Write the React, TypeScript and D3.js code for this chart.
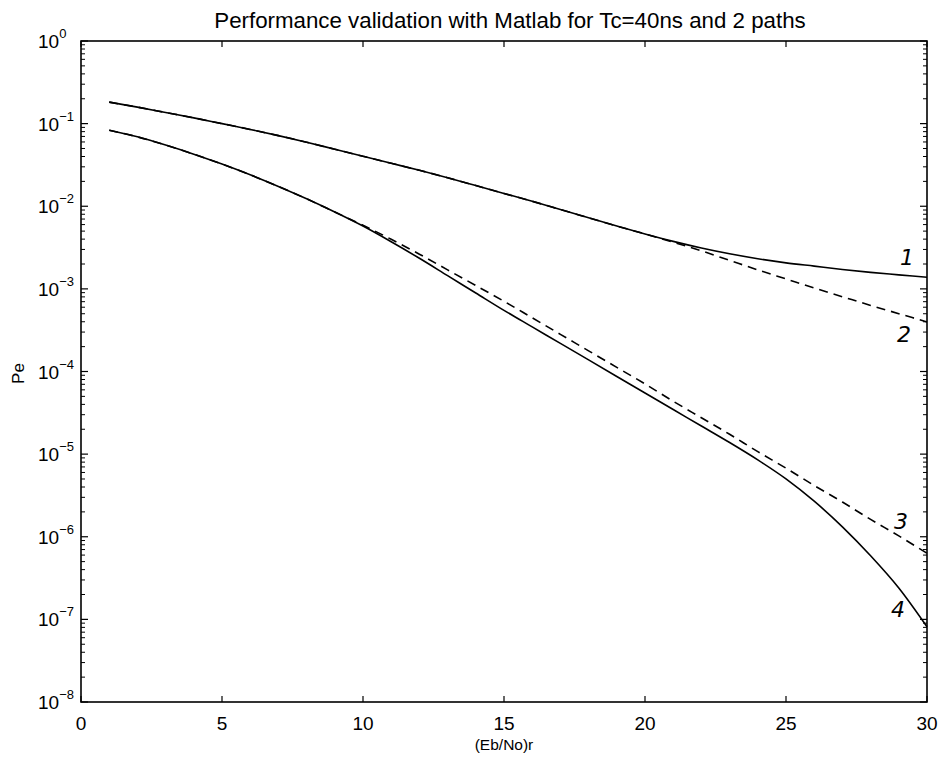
import React from "react";
import * as d3 from "d3";

const xValues = [1,2,3,4,5,6,7,8,9,10,11,12,13,14,15,16,17,18,19,20,21,22,23,24,25,26,27,28,29,30];
// log10(Pe) values
const curve1 = [-0.74,-0.80,-0.865,-0.93,-1.00,-1.07,-1.145,-1.225,-1.31,-1.395,-1.48,-1.565,-1.655,-1.75,-1.845,-1.94,-2.04,-2.14,-2.24,-2.335,-2.425,-2.505,-2.575,-2.635,-2.685,-2.725,-2.765,-2.80,-2.83,-2.86];
const curve2 = [-0.74,-0.80,-0.865,-0.93,-1.00,-1.07,-1.145,-1.225,-1.31,-1.395,-1.48,-1.565,-1.655,-1.75,-1.845,-1.94,-2.04,-2.14,-2.24,-2.335,-2.435,-2.54,-2.655,-2.77,-2.88,-2.99,-3.095,-3.20,-3.30,-3.40];
const curve3 = [-1.08,-1.16,-1.26,-1.37,-1.49,-1.62,-1.76,-1.91,-2.07,-2.23,-2.40,-2.58,-2.77,-2.96,-3.15,-3.35,-3.55,-3.75,-3.95,-4.15,-4.36,-4.56,-4.76,-4.97,-5.17,-5.38,-5.58,-5.79,-5.99,-6.20];
const curve4 = [-1.08,-1.16,-1.26,-1.37,-1.49,-1.62,-1.76,-1.91,-2.07,-2.24,-2.43,-2.63,-2.84,-3.05,-3.26,-3.46,-3.66,-3.86,-4.06,-4.26,-4.46,-4.66,-4.86,-5.07,-5.30,-5.57,-5.88,-6.23,-6.62,-7.09];

const xTicks = [0,5,10,15,20,25,30];
const yExponents = [0,-1,-2,-3,-4,-5,-6,-7,-8];
const curveLabels = ["1","2","3","4"];

const title = "Performance validation with Matlab for Tc=40ns and 2 paths";
const xTitle = "(Eb/No)r";
const yTitle = "Pe";

const W = 942, H = 762;
const L = 81, R = 927, T = 41, B = 702;

export default function App() {
  const x = d3.scaleLinear().domain([0, 30]).range([L, R]);
  const y = d3.scaleLog().domain([1e-8, 1]).range([B, T]);
  const font = "'Liberation Sans', Arial, Helvetica, sans-serif";

  const mk = (arr: number[]) =>
    d3.line<number>().curve(d3.curveMonotoneX).x((_, i) => x(xValues[i])).y((v) => y(Math.pow(10, v)))(arr) || "";

  const series = [
    { d: curve1, dash: undefined },
    { d: curve2, dash: "9,6" },
    { d: curve3, dash: "9,6" },
    { d: curve4, dash: undefined },
  ];

  const minor: number[] = [];
  for (let e = -8; e < 0; e++) {
    for (let k = 2; k <= 9; k++) minor.push(k * Math.pow(10, e));
  }

  const labelPos = [
    { v: curve1[curve1.length - 1], dx: -27, dy: -12 },
    { v: curve2[curve2.length - 1], dx: -30, dy: 20 },
    { v: curve3[curve3.length - 1], dx: -33, dy: -24 },
    { v: curve4[curve4.length - 1], dx: -36, dy: -10 },
  ];

  return (
    <svg width={W} height={H} style={{ position: "absolute", left: 0, top: 0, background: "#fff" }} fontFamily={font}>
      <rect x={0} y={0} width={W} height={H} fill="#fff" />
      <text x={510} y={28} textAnchor="middle" fontSize={22.3} fill="#000">{title}</text>

      <rect x={L} y={T} width={R - L} height={B - T} fill="none" stroke="#000" strokeWidth={1.6} />

      {xTicks.map((t) => (
        <g key={"xt" + t}>
          <line x1={x(t)} x2={x(t)} y1={B} y2={B - 6} stroke="#000" strokeWidth={1.2} />
          <line x1={x(t)} x2={x(t)} y1={T} y2={T + 6} stroke="#000" strokeWidth={1.2} />
          <text x={x(t)} y={B + 28} textAnchor="middle" fontSize={19} fill="#000">{t}</text>
        </g>
      ))}

      {yExponents.map((e) => (
        <g key={"yt" + e}>
          <line x1={L} x2={L + 7} y1={y(Math.pow(10, e))} y2={y(Math.pow(10, e))} stroke="#000" strokeWidth={1.2} />
          <line x1={R} x2={R - 7} y1={y(Math.pow(10, e))} y2={y(Math.pow(10, e))} stroke="#000" strokeWidth={1.2} />
          <text x={38} y={y(Math.pow(10, e)) + 7} fontSize={19} fill="#000">
            10<tspan dy={-10} fontSize={13}>{String(e).replace("-", "\u2212")}</tspan>
          </text>
        </g>
      ))}
      {minor.map((m, i) => (
        <g key={"mn" + i}>
          <line x1={L} x2={L + 4} y1={y(m)} y2={y(m)} stroke="#000" strokeWidth={1} />
          <line x1={R} x2={R - 4} y1={y(m)} y2={y(m)} stroke="#000" strokeWidth={1} />
        </g>
      ))}

      {series.map((s, i) => (
        <path key={"c" + i} d={mk(s.d)} fill="none" stroke="#000" strokeWidth={1.6} strokeDasharray={s.dash} />
      ))}

      {curveLabels.map((lab, i) => (
        <text key={"lb" + i} x={R + labelPos[i].dx} y={y(Math.pow(10, labelPos[i].v)) + labelPos[i].dy}
          fontSize={22} fontStyle="italic" fontFamily="'DejaVu Sans', sans-serif" fill="#000">{lab}</text>
      ))}

      <text x={504} y={750} textAnchor="middle" fontSize={15.5} fill="#000">{xTitle}</text>
      <text transform={`translate(24, ${(T + B) / 2 + 2}) rotate(-90)`} textAnchor="middle" fontSize={17} fill="#000">{yTitle}</text>
    </svg>
  );
}
